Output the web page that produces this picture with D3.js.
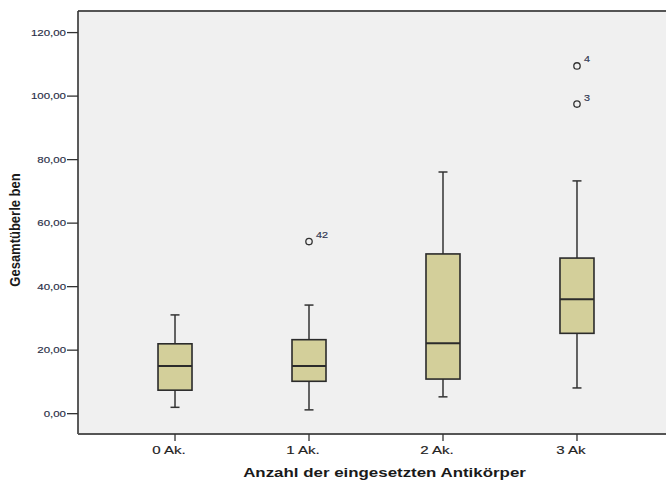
<!DOCTYPE html>
<html>
<head>
<meta charset="utf-8">
<script src="https://cdn.jsdelivr.net/npm/d3@7/dist/d3.min.js"></script>
<style>
  html, body { margin: 0; padding: 0; background: #fff; }
  svg { display: block; }
</style>
</head>
<body>
<svg id="chart" width="666" height="481"></svg>
<script>
// Survival per number of antibodies used (box plot summary)
const categories = ["0 Ak.", "1 Ak.", "2 Ak.", "3 Ak"];
const whiskerLow = [2.0, 1.2, 5.3, 8.1];
const quartile1  = [7.4, 10.2, 10.9, 25.3];
const medians    = [15.0, 15.0, 22.2, 36.0];
const quartile3  = [22.0, 23.3, 50.3, 49.0];
const whiskerHigh = [31.1, 34.2, 76.1, 73.3];

// Outliers: category, value, case label
const outlierCats = ["1 Ak.", "3 Ak", "3 Ak"];
const outlierVals = [54.2, 97.5, 109.5];
const outlierIds  = ["42", "3", "4"];

const yTicks = [0, 20, 40, 60, 80, 100, 120];

const svg = d3.select("#chart");
const plot = { left: 78, right: 674, top: 11, bottom: 434 };

const x = d3.scalePoint().domain(categories)
  .range([plot.left, plot.right]).padding(0.724);
const y = d3.scaleLinear().domain([-6.4, 126.8])
  .range([plot.bottom, plot.top]);

const fmt = v => d3.format(".2f")(v).replace(".", ",");
const font = "Liberation Sans, Arial, sans-serif";

// plot background
svg.append("rect")
  .attr("x", plot.left).attr("y", plot.top)
  .attr("width", plot.right - plot.left).attr("height", plot.bottom - plot.top)
  .attr("fill", "#f0f0f0");

// top frame line
svg.append("line")
  .attr("x1", plot.left).attr("x2", plot.right)
  .attr("y1", plot.top).attr("y2", plot.top)
  .attr("stroke", "#555").attr("stroke-width", 2);

// Y axis
const yAxis = svg.append("g").attr("transform", `translate(${plot.left},0)`);
yAxis.append("line")
  .attr("x1", 0).attr("x2", 0).attr("y1", plot.top).attr("y2", plot.bottom)
  .attr("stroke", "#333").attr("stroke-width", 1.6);
yTicks.forEach(t => {
  const g = yAxis.append("g").attr("transform", `translate(0,${y(t)})`);
  g.append("line").attr("x1", -11).attr("x2", 0)
    .attr("stroke", "#333").attr("stroke-width", 1.3);
  g.append("text")
    .attr("transform", "translate(-12,0) scale(1.22,1)")
    .attr("text-anchor", "end").attr("dy", "0.35em")
    .attr("font-family", font)
    .attr("font-size", 9.4).attr("fill", "#2a2f48")
    .attr("stroke", "#2a2f48").attr("stroke-width", 0.15)
    .text(fmt(t));
});

// X axis
const xAxis = svg.append("g").attr("transform", `translate(0,${plot.bottom})`);
xAxis.append("line")
  .attr("x1", plot.left).attr("x2", plot.right)
  .attr("stroke", "#555").attr("stroke-width", 2);
categories.forEach(c => {
  const g = xAxis.append("g").attr("transform", `translate(${x(c)},0)`);
  g.append("line").attr("y1", 0).attr("y2", 7)
    .attr("stroke", "#333").attr("stroke-width", 1.3);
  g.append("text")
    .attr("transform", "translate(-6,19.5) scale(1.3,1)")
    .attr("text-anchor", "middle")
    .attr("font-family", font)
    .attr("font-size", 11.6).attr("fill", "#222")
    .attr("stroke", "#222").attr("stroke-width", 0.15)
    .text(c);
});

// axis titles
svg.append("text")
  .attr("transform", `translate(${(239 + 530) / 2},476.5) scale(1.3,1)`)
  .attr("text-anchor", "middle")
  .attr("font-family", font)
  .attr("font-weight", "bold").attr("font-size", 13)
  .attr("fill", "#1a1a1a")
  .text("Anzahl der eingesetzten Antikörper");

svg.append("text")
  .attr("transform", "translate(19.5,230) scale(1.15,1) rotate(-90)")
  .attr("text-anchor", "middle")
  .attr("font-family", font)
  .attr("font-weight", "bold").attr("font-size", 13)
  .attr("fill", "#1a1a1a")
  .text("Gesamtüberle ben");

// boxes
const boxW = 34, capW = 9;
const boxes = svg.append("g");
categories.forEach((c, i) => {
  const cx = x(c);
  const g = boxes.append("g");
  // whiskers
  g.append("line").attr("x1", cx).attr("x2", cx)
    .attr("y1", y(whiskerHigh[i])).attr("y2", y(quartile3[i]))
    .attr("stroke", "#333").attr("stroke-width", 1.5);
  g.append("line").attr("x1", cx).attr("x2", cx)
    .attr("y1", y(quartile1[i])).attr("y2", y(whiskerLow[i]))
    .attr("stroke", "#333").attr("stroke-width", 1.5);
  [whiskerHigh[i], whiskerLow[i]].forEach(v => {
    g.append("line").attr("x1", cx - capW / 2).attr("x2", cx + capW / 2)
      .attr("y1", y(v)).attr("y2", y(v))
      .attr("stroke", "#333").attr("stroke-width", 1.5);
  });
  // box
  g.append("rect")
    .attr("x", cx - boxW / 2).attr("width", boxW)
    .attr("y", y(quartile3[i])).attr("height", y(quartile1[i]) - y(quartile3[i]))
    .attr("fill", "#d3cf9a").attr("stroke", "#2b2b2b").attr("stroke-width", 1.6);
  // median
  g.append("line").attr("x1", cx - boxW / 2).attr("x2", cx + boxW / 2)
    .attr("y1", y(medians[i])).attr("y2", y(medians[i]))
    .attr("stroke", "#2b2b2b").attr("stroke-width", 2);
});

// outliers
outlierVals.forEach((v, i) => {
  const cx = x(outlierCats[i]);
  svg.append("circle")
    .attr("cx", cx).attr("cy", y(v)).attr("r", 3.2)
    .attr("fill", "none").attr("stroke", "#333").attr("stroke-width", 1.3);
  svg.append("text")
    .attr("transform", `translate(${cx + 7},${y(v) - 3.5}) scale(1.2,1)`)
    .attr("font-family", font)
    .attr("font-size", 9).attr("fill", "#2f3550")
    .attr("stroke", "#2f3550").attr("stroke-width", 0.15)
    .text(outlierIds[i]);
});
</script>
</body>
</html>
